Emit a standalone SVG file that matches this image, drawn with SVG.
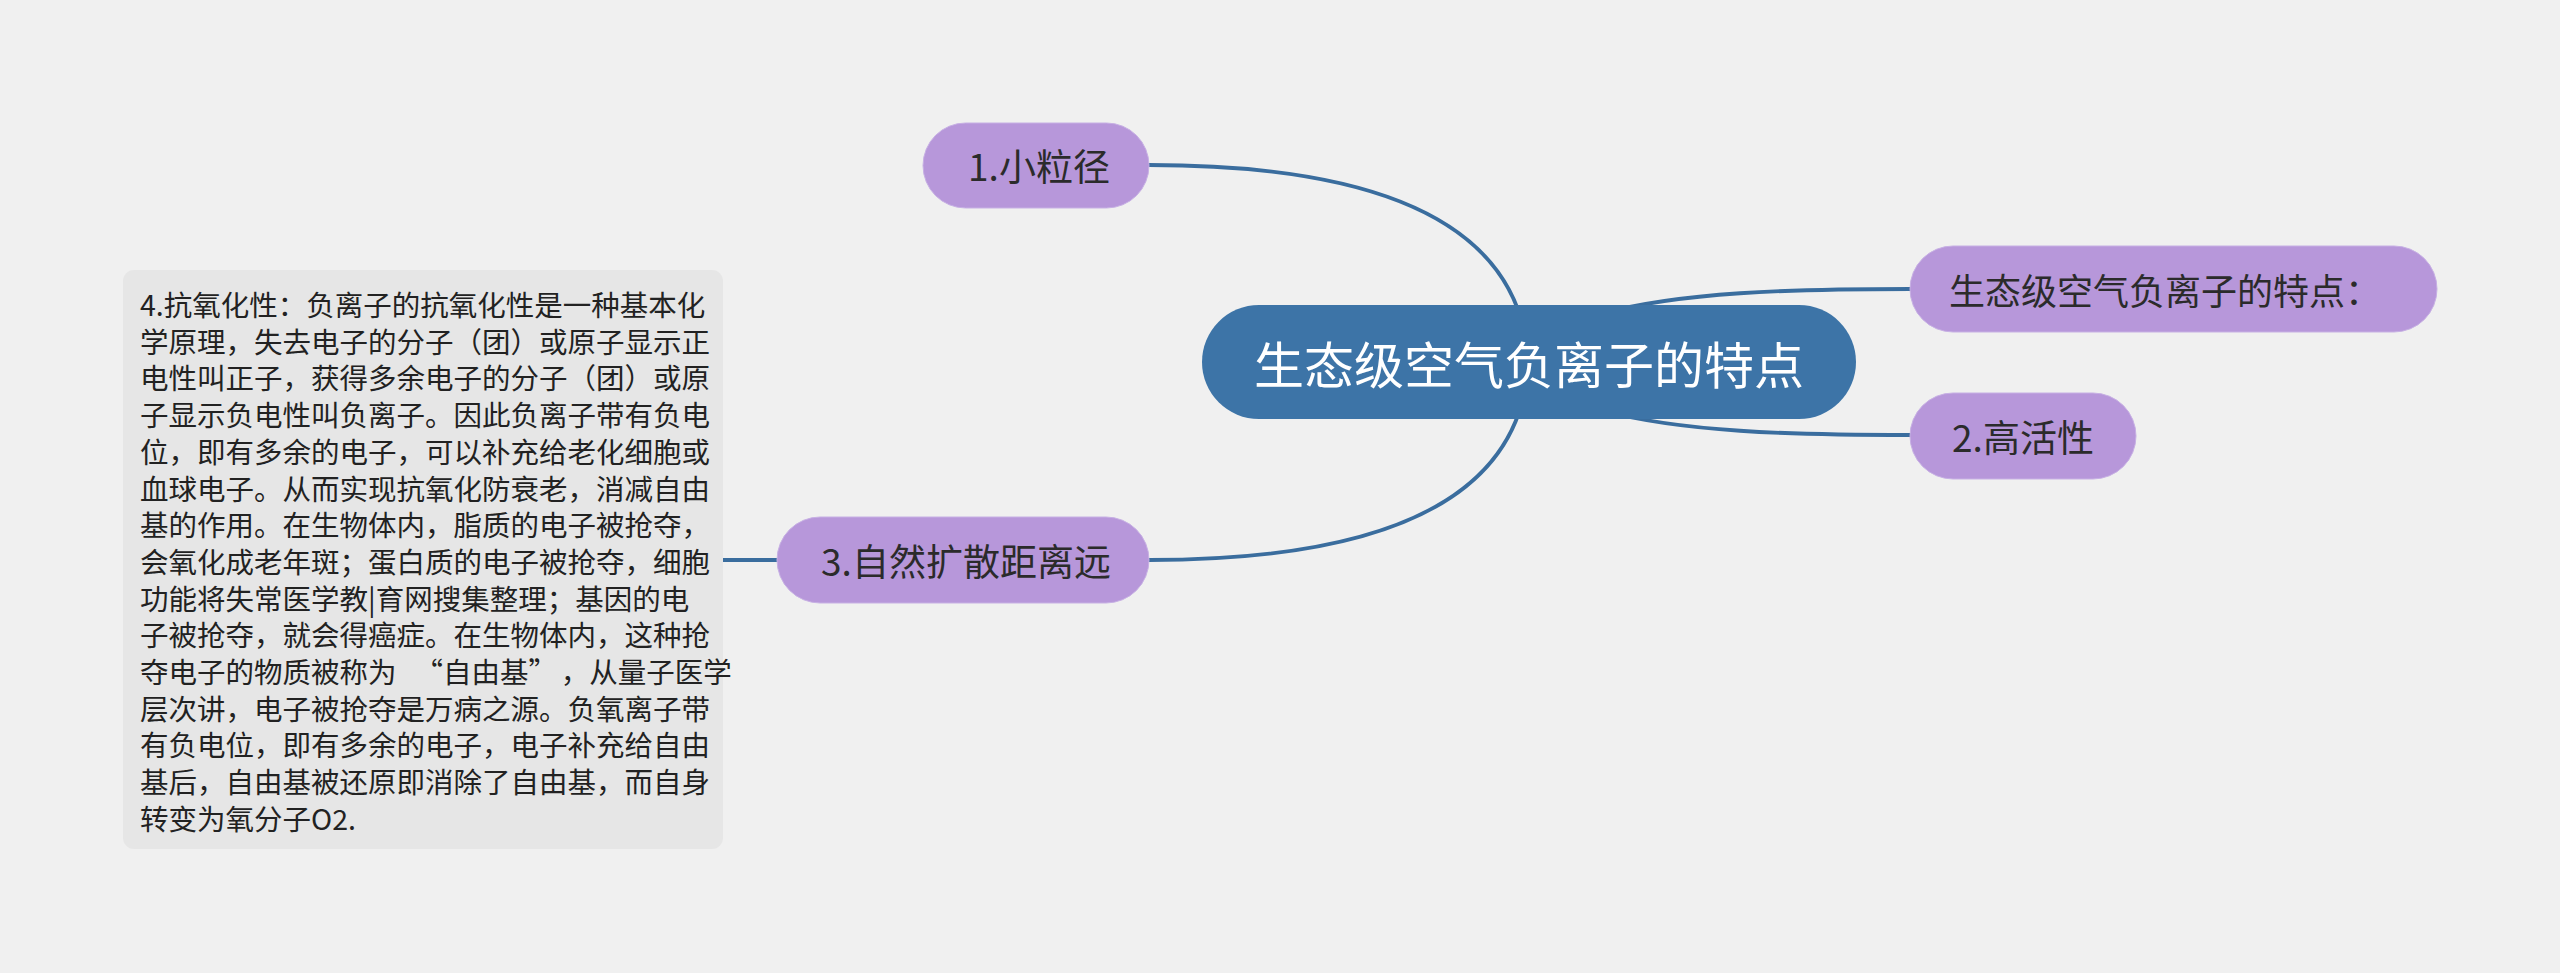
<svg xmlns="http://www.w3.org/2000/svg" width="2560" height="973" viewBox="0 0 2560 973">
<style>
text{font-family:"Noto Sans CJK SC","Noto Sans",sans-serif;dominant-baseline:central;}
.conn{fill:none;stroke:#3a6d9e;stroke-width:3.8;stroke-linecap:round;}
.sub rect{fill:#b797da;stroke:#c7b0e4;stroke-width:1;}
.sub text{fill:#2b2b2b;font-size:37px;text-anchor:middle;}
.root rect{fill:#3d74a7;}
.root text{fill:#ffffff;font-size:50px;text-anchor:middle;}
.note rect{fill:#e6e6e6;}
.note text{fill:#222222;font-size:28.5px;}
</style>
<rect x="0" y="0" width="2560" height="973" fill="#f0f0f0"/>
<g id="connectors">
<path class="conn" d="M1149,165 C1385,165 1500,225 1524,330"/>
<path class="conn" d="M1524,395 C1500,500 1385,560 1149,560"/>
<path class="conn" d="M1600,314 C1680,292 1790,289 1910,289"/>
<path class="conn" d="M1600,410 C1680,432 1790,435 1910,435"/>
<path class="conn" d="M777,560 L723,560"/>
</g>
<g id="root" class="root">
<rect x="1202" y="305" width="654" height="114" rx="57"/>
<text x="1529" y="362">生态级空气负离子的特点</text>
</g>
<g id="n1" class="sub">
<rect x="923" y="123" width="226" height="85" rx="42.5"/>
<text x="1039" y="165">1.小粒径</text>
</g>
<g id="n-features" class="sub">
<rect x="1910" y="246" width="527" height="86" rx="43"/>
<text x="2165" y="289" style="font-size:36px">生态级空气负离子的特点：</text>
</g>
<g id="n2" class="sub">
<rect x="1910" y="393" width="226" height="86" rx="43"/>
<text x="2023" y="436">2.高活性</text>
</g>
<g id="n3" class="sub">
<rect x="777" y="517" width="372" height="86" rx="43"/>
<text x="966" y="560">3.自然扩散距离远</text>
</g>
<g id="n4" class="note">
<rect x="123" y="270" width="600" height="579" rx="11"/>
<text>
<tspan x="140" y="303">4.抗氧化性：负离子的抗氧化性是一种基本化</tspan>
<tspan x="140" y="339.7">学原理，失去电子的分子（团）或原子显示正</tspan>
<tspan x="140" y="376.4">电性叫正子，获得多余电子的分子（团）或原</tspan>
<tspan x="140" y="413.1">子显示负电性叫负离子。因此负离子带有负电</tspan>
<tspan x="140" y="449.8">位，即有多余的电子，可以补充给老化细胞或</tspan>
<tspan x="140" y="486.5">血球电子。从而实现抗氧化防衰老，消减自由</tspan>
<tspan x="140" y="523.2">基的作用。在生物体内，脂质的电子被抢夺，</tspan>
<tspan x="140" y="559.9">会氧化成老年斑；蛋白质的电子被抢夺，细胞</tspan>
<tspan x="140" y="596.6">功能将失常医学教|育网搜集整理；基因的电</tspan>
<tspan x="140" y="633.3">子被抢夺，就会得癌症。在生物体内，这种抢</tspan>
<tspan x="140" y="670">夺电子的物质被称为<tspan dx="18">“</tspan>自由基”<tspan dx="18">，</tspan>从量子医学</tspan>
<tspan x="140" y="706.7">层次讲，电子被抢夺是万病之源。负氧离子带</tspan>
<tspan x="140" y="743.4">有负电位，即有多余的电子，电子补充给自由</tspan>
<tspan x="140" y="780.1">基后，自由基被还原即消除了自由基，而自身</tspan>
<tspan x="140" y="816.8">转变为氧分子O2.</tspan>
</text>
</g>
</svg>
